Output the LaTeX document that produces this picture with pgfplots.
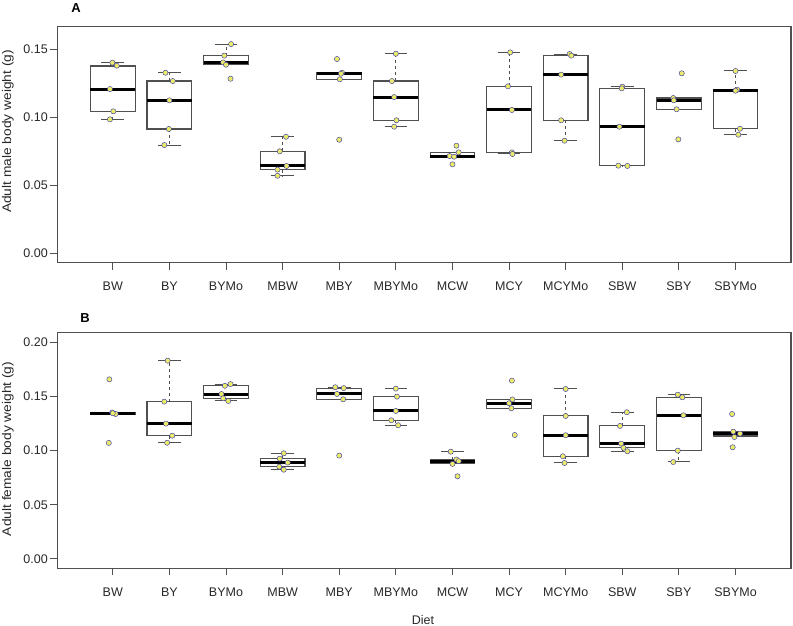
\documentclass[border=0pt]{standalone}
\usepackage{pgfplots}
\pgfplotsset{compat=1.18}
\usepackage{pgfplotstable}
\usepackage{fontspec}
\setmainfont{Liberation Sans}
\definecolor{framegray}{RGB}{80,80,80}
\definecolor{boxgray}{RGB}{80,80,80}
\definecolor{textgray}{RGB}{40,40,40}
\definecolor{ptyellow}{RGB}{235,235,105}
\definecolor{ptblue}{RGB}{60,60,170}

\pgfplotsset{
  whisk/.style={draw=boxgray, line width=1pt, solid},
  wdash/.style={draw=boxgray, line width=1pt, dash pattern=on 3pt off 3pt},
  boxst/.style={draw=boxgray, line width=1.1pt, line join=miter, solid},
  medst/.style={draw=black, line width=3pt, solid},
  rpts/.style={only marks, mark=*, mark size=2.6pt,
    mark options={fill=ptyellow, draw=ptblue, line width=0.45pt, solid}},
  rax/.style={
    anchor=south west, scale only axis, width=733.7pt, height=236pt,
    xmin=0.02, xmax=12.98,
    xtick={1,2,3,4,5,6,7,8,9,10,11,12},
    xticklabels={BW,BY,BYMo,MBW,MBY,MBYMo,MCW,MCY,MCYMo,SBW,SBY,SBYMo},
    tick align=outside, xtick pos=bottom, ytick pos=left,
    major tick length=7pt,
    axis line style={draw=framegray, line width=1.1pt},
    every tick/.style={draw=framegray, line width=1pt},
    ticklabel style={font=\fontsize{12.5}{14}\selectfont, text=textgray},
    xticklabel style={yshift=-9pt},
    yticklabel style={xshift=1pt},
    /pgf/number format/assume math mode=true,
  },
}
% #1 position, #2 lower whisker, #3 lower quartile, #4 median, #5 upper quartile, #6 upper whisker
\newcommand{\bx}[6]{%
  \pgfmathsetmacro\bxl{#1-0.395}%
  \pgfmathsetmacro\bxr{#1+0.395}%
  \pgfmathsetmacro\bcl{#1-0.2}%
  \pgfmathsetmacro\bcr{#1+0.2}%
  \edef\bxdoit{%
    \noexpand\addplot[wdash] coordinates {(#1,#3) (#1,#2)};
    \noexpand\addplot[wdash] coordinates {(#1,#5) (#1,#6)};
    \noexpand\addplot[whisk] coordinates {(\bcl,#2) (\bcr,#2)};
    \noexpand\addplot[whisk] coordinates {(\bcl,#6) (\bcr,#6)};
    \noexpand\addplot[boxst] coordinates {(\bxl,#3) (\bxr,#3) (\bxr,#5) (\bxl,#5)} -- cycle;
    \noexpand\addplot[medst] coordinates {(\bxl,#4) (\bxr,#4)};
  }\bxdoit}

\pgfplotstableread{
x y
0.993 0.1403
1.07 0.1381
0.95 0.1209
1.01 0.1045
0.95 0.0986
1.93 0.1329
2.06 0.1268
2.00 0.1126
1.99 0.0915
1.91 0.0797
3.09 0.1540
2.97 0.1455
2.95 0.1405
3.00 0.1388
3.08 0.1285
4.06 0.0858
3.95 0.0751
4.07 0.0643
3.91 0.0616
3.91 0.0571
4.96 0.1430
5.05 0.1329
5.03 0.1322
5.01 0.1281
5.00 0.0836
6.00 0.1469
5.93 0.1268
5.97 0.1150
6.01 0.0979
5.97 0.0932
7.07 0.0792
7.11 0.0743
6.95 0.0716
7.03 0.0711
7.00 0.0655
8.02 0.1479
7.98 0.1229
8.05 0.1055
8.05 0.0743
8.06 0.0731
9.07 0.1467
9.10 0.1455
8.92 0.1315
8.92 0.0979
8.98 0.0829
10.00 0.1227
9.99 0.1214
9.95 0.0932
9.93 0.0645
10.09 0.0643
11.05 0.1325
10.90 0.1143
10.91 0.1126
10.96 0.1060
10.99 0.0839
12.00 0.1342
12.03 0.1204
12.00 0.1197
12.08 0.0917
12.05 0.0873
}\maletab

\pgfplotstableread{
x y
0.94 0.1658
0.99 0.1352
1.05 0.1338
1.00 0.1345
0.93 0.1071
1.97 0.1830
1.91 0.1452
1.94 0.1249
2.05 0.1138
1.96 0.1073
3.08 0.1614
2.98 0.1598
2.92 0.1522
2.95 0.1483
3.04 0.1458
4.02 0.0975
3.95 0.0926
4.09 0.0889
3.94 0.0852
4.02 0.0824
4.93 0.1585
5.08 0.1577
4.96 0.1523
5.07 0.1474
5.00 0.0954
6.00 0.1572
6.02 0.1498
6.00 0.1366
5.92 0.1280
6.04 0.1234
6.97 0.0990
7.07 0.0918
7.11 0.0903
7.00 0.0878
7.09 0.0763
8.05 0.1646
8.06 0.1472
8.00 0.1437
8.04 0.1391
8.10 0.1144
9.00 0.1569
9.00 0.1320
9.00 0.1142
8.95 0.0948
8.98 0.0886
10.08 0.1354
9.96 0.1228
9.98 0.1064
10.02 0.1027
10.09 0.0994
10.98 0.1516
11.06 0.1492
11.08 0.1326
10.98 0.1000
10.90 0.0895
11.94 0.1338
11.96 0.1175
12.08 0.1157
11.98 0.1126
11.95 0.1031
}\femaletab

\begin{document}
\begin{tikzpicture}
\path[use as bounding box] (0,0) rectangle (793pt,626pt);

\begin{axis}[rax, at={(57.3pt,363.3pt)},
  ymin=-0.0069, ymax=0.1668,
  ytick={0,0.05,0.10,0.15}, yticklabels={0.00,0.05,0.10,0.15}]
\bx{1}{0.0986}{0.1045}{0.1209}{0.1379}{0.1403}
\bx{2}{0.0797}{0.0915}{0.1126}{0.1268}{0.1329}
\bx{3}{0.1388}{0.1388}{0.1405}{0.1455}{0.1540}
\bx{4}{0.0571}{0.0616}{0.0643}{0.0751}{0.0858}
\bx{5}{0.1281}{0.1281}{0.1322}{0.1329}{0.1329}
\bx{6}{0.0932}{0.0979}{0.1150}{0.1268}{0.1469}
\bx{7}{0.0711}{0.0711}{0.0716}{0.0743}{0.0743}
\bx{8}{0.0731}{0.0743}{0.1055}{0.1229}{0.1479}
\bx{9}{0.0829}{0.0979}{0.1315}{0.1455}{0.1467}
\bx{10}{0.0643}{0.0645}{0.0932}{0.1214}{0.1227}
\bx{11}{0.1060}{0.1060}{0.1126}{0.1143}{0.1143}
\bx{12}{0.0873}{0.0917}{0.1197}{0.1204}{0.1342}
\addplot[rpts] table[x=x,y=y] {\maletab};
\end{axis}

\begin{axis}[rax, at={(57.3pt,57.7pt)},
  ymin=-0.0086, ymax=0.2092,
  ytick={0,0.05,0.10,0.15,0.20}, yticklabels={0.00,0.05,0.10,0.15,0.20}]
\bx{1}{0.1338}{0.1338}{0.1345}{0.1352}{0.1352}
\bx{2}{0.1073}{0.1138}{0.1249}{0.1452}{0.1830}
\bx{3}{0.1458}{0.1483}{0.1522}{0.1598}{0.1614}
\bx{4}{0.0824}{0.0852}{0.0889}{0.0926}{0.0975}
\bx{5}{0.1474}{0.1474}{0.1523}{0.1577}{0.1585}
\bx{6}{0.1234}{0.1280}{0.1366}{0.1498}{0.1572}
\bx{7}{0.0880}{0.0880}{0.0902}{0.0918}{0.0990}
\bx{8}{0.1391}{0.1391}{0.1437}{0.1470}{0.1470}
\bx{9}{0.0886}{0.0948}{0.1142}{0.1320}{0.1569}
\bx{10}{0.0994}{0.1027}{0.1064}{0.1228}{0.1354}
\bx{11}{0.0895}{0.1000}{0.1326}{0.1492}{0.1516}
\bx{12}{0.1126}{0.1135}{0.1157}{0.1175}{0.1175}
\addplot[rpts] table[x=x,y=y] {\femaletab};
\end{axis}

\node[rotate=90, text=textgray, font=\fontsize{12.5}{14}\selectfont] at (8pt,494.5pt) {\scalebox{1.1}[1]{Adult male body weight (g)}};
\node[rotate=90, text=textgray, font=\fontsize{12.5}{14}\selectfont] at (8pt,177pt) {\scalebox{1.1}[1]{Adult female body weight (g)}};
\node[text=black, font=\fontsize{13}{15}\selectfont\bfseries] at (76pt,617.7pt) {A};
\node[text=black, font=\fontsize{13}{15}\selectfont\bfseries] at (85pt,308pt) {B};
\node[text=textgray, font=\fontsize{12.5}{14}\selectfont] at (423pt,6pt) {Diet};
\end{tikzpicture}
\end{document}
